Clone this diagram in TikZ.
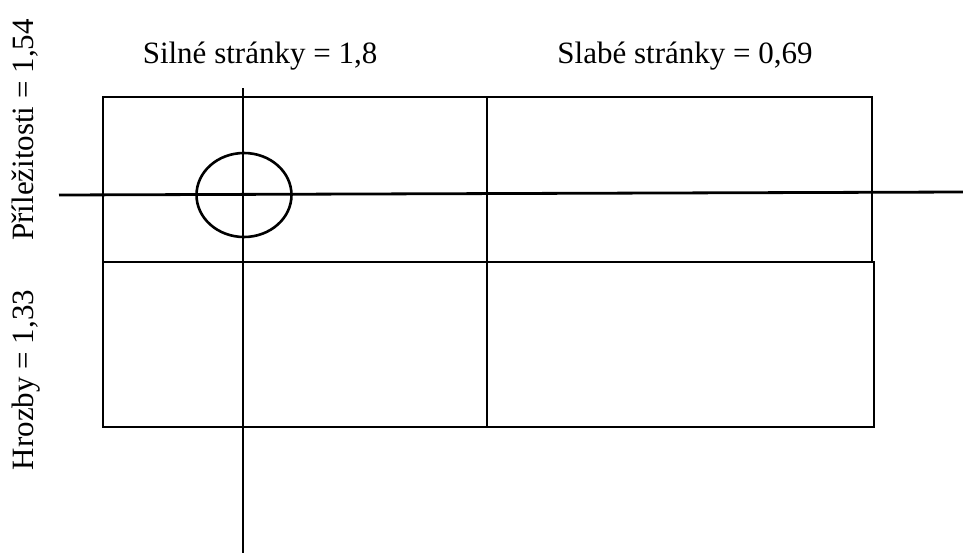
\documentclass[tikz,border=0pt]{standalone}
\usepackage{fontspec}
\setmainfont{Liberation Serif}
\usetikzlibrary{shapes.geometric}
\begin{document}
\begin{tikzpicture}[x=1pt,y=-1pt,
  frame/.style={draw=black,line width=2.8pt},
  axis/.style={draw=black,line width=2.8pt},
  lbl/.style={inner sep=0pt,anchor=base,font=\fontsize{31}{37}\selectfont}]
\useasboundingbox (0,0) rectangle (963,554);
% key points
\coordinate (tl) at (103,97);
\coordinate (tr) at (872,262);
\coordinate (bl) at (103,262);
\coordinate (br) at (874,427);
\coordinate (mtop) at (487,97);
\coordinate (mbot) at (487,427);
\coordinate (vtop) at (243,88);
\coordinate (vbot) at (243,553);
\coordinate (hl) at (59,195);
\coordinate (hr) at (963,192);
% rectangles
\draw[frame] (tl) rectangle (tr);
\draw[frame] (bl) rectangle (br);
\draw[frame] (mtop) -- (mbot);
% axes
\draw[axis] (vtop) -- (vbot);
\draw[axis] (hl) -- (hr);
% circle
\node[draw=black,line width=2.6pt,ellipse,minimum width=95pt,minimum height=84pt,inner sep=0pt] (circ) at (244,195) {};
% labels
\node[lbl] (s) at (260,63) {Silné stránky = 1,8};
\node[lbl] (w) at (685,63) {Slabé stránky = 0,69};
\node[lbl,rotate=90] (o) at (33,130) {Příležitosti = 1,54};
\node[lbl,rotate=90] (t) at (33,380) {Hrozby = 1,33};
\end{tikzpicture}
\end{document}
